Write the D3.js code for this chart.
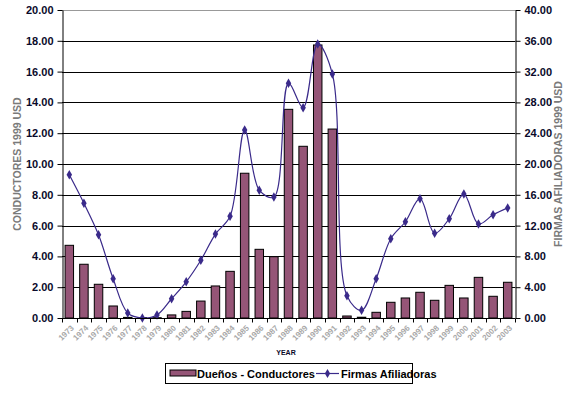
<!DOCTYPE html>
<html>
<head>
<meta charset="utf-8">
<script src="https://cdn.jsdelivr.net/npm/d3@7"></script>
<style>
  body { margin: 0; background: #fff; }
  svg { display: block; font-family: 'Liberation Sans', Arial, sans-serif; }
</style>
</head>
<body>
<svg id="chart" width="578" height="397"></svg>
<script>
const years = d3.range(1973, 2004).map(String)

// Dueños - Conductores (left axis)
const duenos = [4.72, 3.49, 2.19, 0.78, 0.04, 0.02, 0.02, 0.2, 0.43, 1.1, 2.08, 3.03,
  9.4, 4.46, 3.98, 13.55, 11.15, 17.73, 12.27, 0.13, 0.05, 0.37, 1.02, 1.3, 1.67,
  1.15, 2.12, 1.3, 2.64, 1.41, 2.32]

// Firmas Afiliadoras (right axis)
const firmas = [18.6, 14.9, 10.8, 5.1, 0.65, 0, 0.4, 2.5, 4.7, 7.5, 10.9, 13.2,
  24.4, 16.6, 15.7, 30.5, 27.3, 35.6, 31.7, 2.9, 1.0, 5.1, 10.3, 12.5, 15.5,
  11.0, 12.9, 16.1, 12.2, 13.4, 14.3]

const leftTicks = d3.range(0, 20.01, 2)
const rightTicks = d3.range(0, 40.01, 4)

const margin = { top: 10, right: 63, bottom: 79, left: 62 }
const width = 578
const height = 397
const chartWidth = width - margin.left - margin.right
const chartHeight = height - margin.top - margin.bottom

const svg = d3.select('#chart')
const g = svg.append('g')
  .attr('transform', `translate(${margin.left},${margin.top})`)

const x = d3.scaleBand().domain(years).range([0, chartWidth]).paddingInner(0.42).paddingOuter(0.21)
const xStep = d3.scaleBand().domain(years).range([0, chartWidth])
const yL = d3.scaleLinear().domain([0, 20]).range([chartHeight, 0])
const yR = d3.scaleLinear().domain([0, 40]).range([chartHeight, 0])

// gridlines
g.append('g')
  .selectAll('line')
  .data(leftTicks)
  .join('line')
  .attr('x1', 0)
  .attr('x2', chartWidth)
  .attr('y1', (d) => Math.round(yL(d)) + 0.5)
  .attr('y2', (d) => Math.round(yL(d)) + 0.5)
  .attr('stroke', (d) => (d === 20 ? '#999' : '#000'))
  .attr('stroke-width', 1)

// bars
g.append('g')
  .selectAll('rect')
  .data(duenos)
  .join('rect')
  .attr('x', (d, i) => x(years[i]))
  .attr('y', (d) => yL(d))
  .attr('width', x.bandwidth())
  .attr('height', (d) => chartHeight - yL(d))
  .attr('fill', '#955577')
  .attr('stroke', '#000')
  .attr('stroke-width', 1)

// line
const lineColor = '#3a2a8a'
const line = d3.line()
  .x((d, i) => xStep(years[i]) + xStep.bandwidth() / 2)
  .y((d) => yR(d))
  .curve(d3.curveCatmullRom.alpha(0.5))

g.append('path')
  .datum(firmas)
  .attr('d', line)
  .attr('fill', 'none')
  .attr('stroke', lineColor)
  .attr('stroke-width', 1.2)

g.append('g')
  .selectAll('path')
  .data(firmas)
  .join('path')
  .attr('transform', (d, i) => `translate(${xStep(years[i]) + xStep.bandwidth() / 2},${yR(d)})`)
  .attr('d', d3.symbol(d3.symbolDiamond, 26))
  .attr('fill', lineColor)

// x axis
const xAxis = g.append('g')
  .attr('transform', `translate(0,${chartHeight + 0.5})`)
xAxis.append('line')
  .attr('x1', 0).attr('x2', chartWidth)
  .attr('stroke', '#000')
xAxis.selectAll('line.tick')
  .data(d3.range(years.length + 1))
  .join('line')
  .attr('class', 'tick')
  .attr('x1', (d) => Math.round(d * xStep.step()) + 0.5)
  .attr('x2', (d) => Math.round(d * xStep.step()) + 0.5)
  .attr('y1', 0).attr('y2', 4)
  .attr('stroke', '#000')
xAxis.selectAll('text')
  .data(years)
  .join('text')
  .attr('transform', (d) => `translate(${xStep(d) + xStep.bandwidth() / 2 + 3},${8}) rotate(-45)`)
  .attr('text-anchor', 'end')
  .attr('dy', '0.35em')
  .attr('font-size', 8)
  .attr('font-weight', 'bold')
  .attr('fill', '#a8a8a8')
  .text((d) => d)

// left axis
g.append('g')
  .attr('transform', 'translate(0.5,0)')
  .call(d3.axisLeft(yL).tickValues(leftTicks).tickFormat(d3.format('.2f')).tickSize(5).tickSizeOuter(0))
  .call((a) => a.selectAll('text').attr('font-size', 11).attr('font-weight', 'bold').attr('fill', '#0a0a2a').attr('dx', -1))
  .call((a) => a.selectAll('line,path').attr('stroke', '#000'))

// right axis
g.append('g')
  .attr('transform', `translate(${chartWidth + 0.5},0)`)
  .call(d3.axisRight(yR).tickValues(rightTicks).tickFormat(d3.format('.2f')).tickSize(5).tickSizeOuter(0))
  .call((a) => a.selectAll('text').attr('font-size', 11).attr('font-weight', 'bold').attr('fill', '#0a0a2a').attr('dx', 1))
  .call((a) => a.selectAll('line,path').attr('stroke', '#000'))

g.selectAll('.domain').attr('stroke', '#000')

// axis titles
svg.append('text')
  .attr('transform', `translate(21,${margin.top + chartHeight / 2}) rotate(-90)`)
  .attr('text-anchor', 'middle')
  .attr('font-size', 10.5)
  .attr('font-weight', 'bold')
  .attr('fill', '#7a7a7a')
  .text('CONDUCTORES 1999 USD')

svg.append('text')
  .attr('transform', `translate(562,${margin.top + chartHeight / 2}) rotate(-90)`)
  .attr('text-anchor', 'middle')
  .attr('font-size', 10.5)
  .attr('font-weight', 'bold')
  .attr('fill', '#7a7a7a')
  .text('FIRMAS AFILIADORAS 1999 USD')

svg.append('text')
  .attr('x', 286)
  .attr('y', 355)
  .attr('text-anchor', 'middle')
  .attr('font-size', 7)
  .attr('font-weight', 'bold')
  .attr('fill', '#0a0a2a')
  .text('YEAR')

// legend
const legendG = svg.append('g').attr('transform', 'translate(165,363)')
legendG.append('rect')
  .attr('x', 0.5).attr('y', 0.5)
  .attr('width', 247).attr('height', 20)
  .attr('fill', '#fff').attr('stroke', '#000')
legendG.append('rect')
  .attr('x', 5).attr('y', 7)
  .attr('width', 26).attr('height', 6)
  .attr('fill', '#955577').attr('stroke', '#000')
legendG.append('text')
  .attr('x', 32).attr('y', 14.5)
  .attr('font-size', 11).attr('font-weight', 'bold')
  .text('Dueños - Conductores')
legendG.append('line')
  .attr('x1', 151).attr('x2', 174).attr('y1', 10.5).attr('y2', 10.5)
  .attr('stroke', lineColor).attr('stroke-width', 1.2)
legendG.append('path')
  .attr('transform', 'translate(162.5,10.5)')
  .attr('d', d3.symbol(d3.symbolDiamond, 24))
  .attr('fill', lineColor)
legendG.append('text')
  .attr('x', 176).attr('y', 14.5)
  .attr('font-size', 11).attr('font-weight', 'bold')
  .text('Firmas Afiliadoras')
</script>
</body>
</html>
